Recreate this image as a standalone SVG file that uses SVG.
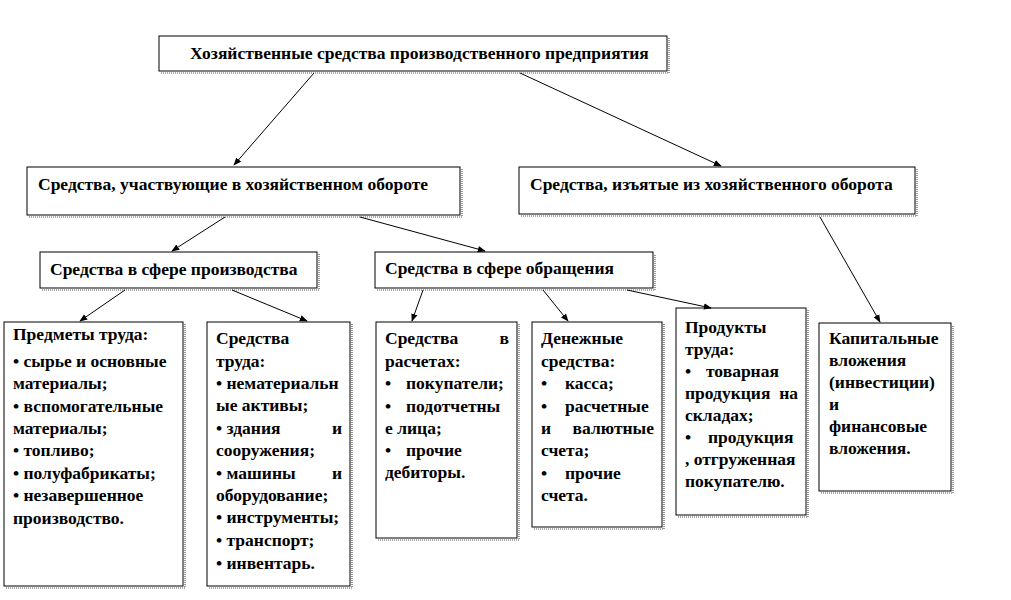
<svg xmlns="http://www.w3.org/2000/svg" width="1011" height="600" viewBox="0 0 1011 600">
<style>
.box{fill:#fff;stroke:#000;stroke-width:1}
.sh{fill:none;stroke:#555;stroke-width:1.2;stroke-dasharray:1 1}
text{font-family:"Liberation Serif","Times New Roman",serif;font-weight:bold;font-size:17.5px;fill:#000}
.c line{stroke:#000;stroke-width:1;marker-end:url(#ah)}
</style>
<defs>
<marker id="ah" viewBox="0 0 10 10" refX="9" refY="5" markerWidth="8" markerHeight="8" markerUnits="userSpaceOnUse" orient="auto">
<path d="M0,1 L10,5 L0,9 z" fill="#000"/>
</marker>
</defs>
<rect width="1011" height="600" fill="#fff"/>

<g id="n1">
<polyline class="sh" points="161,73 669,73 669,38"/>
<rect class="box" x="159" y="36" width="508" height="35"/>
<text x="190" y="59">Хозяйственные средства производственного предприятия</text>
</g>
<g id="n2">
<polyline class="sh" points="29,217 462,217 462,169"/>
<rect class="box" x="27" y="167" width="433" height="48"/>
<text x="38" y="190">Средства, участвующие в хозяйственном обороте</text>
</g>
<g id="n3">
<polyline class="sh" points="521,216 917,216 917,169"/>
<rect class="box" x="519" y="167" width="396" height="47"/>
<text x="530" y="190">Средства, изъятые из хозяйственного оборота</text>
</g>
<g id="n4">
<polyline class="sh" points="42,290 319,290 319,254"/>
<rect class="box" x="40" y="252" width="277" height="36"/>
<text x="50" y="275">Средства в сфере производства</text>
</g>
<g id="n5">
<polyline class="sh" points="377,290 655,290 655,254"/>
<rect class="box" x="375" y="252" width="278" height="36"/>
<text x="385" y="274">Средства в сфере обращения</text>
</g>
<g id="n6">
<polyline class="sh" points="6,588 185,588 185,324"/>
<rect class="box" x="4" y="322" width="179" height="264"/>
<text x="13" y="340">Предметы труда:</text>
<text x="13" y="367">• сырье и основные</text>
<text x="13" y="389">материалы;</text>
<text x="13" y="412">• вспомогательные</text>
<text x="13" y="434">материалы;</text>
<text x="13" y="456">• топливо;</text>
<text x="13" y="479">• полуфабрикаты;</text>
<text x="13" y="501">• незавершенное</text>
<text x="13" y="524">производство.</text>
</g>
<g id="n7">
<polyline class="sh" points="209,588 352,588 352,324"/>
<rect class="box" x="207" y="322" width="143" height="264"/>
<text x="216" y="344">Средства</text>
<text x="216" y="367">труда:</text>
<text x="216" y="389">• нематериальн</text>
<text x="216" y="411">ые активы;</text>
<text x="216" y="434">• здания</text>
<text x="342" y="434" text-anchor="end">и</text>
<text x="216" y="456">сооружения;</text>
<text x="216" y="479">• машины</text>
<text x="342" y="479" text-anchor="end">и</text>
<text x="216" y="501">оборудование;</text>
<text x="216" y="523">• инструменты;</text>
<text x="216" y="546">• транспорт;</text>
<text x="216" y="569">• инвентарь.</text>
</g>
<g id="n8">
<polyline class="sh" points="378,540 519,540 519,324"/>
<rect class="box" x="376" y="322" width="141" height="216"/>
<text x="385" y="344">Средства</text>
<text x="509" y="344" text-anchor="end">в</text>
<text x="385" y="367">расчетах:</text>
<text x="385" y="389">•</text><text x="406" y="389">покупатели;</text>
<text x="385" y="412">•</text><text x="406" y="412">подотчетны</text>
<text x="385" y="434">е лица;</text>
<text x="385" y="456">•</text><text x="406" y="456">прочие</text>
<text x="385" y="478">дебиторы.</text>
</g>
<g id="n9">
<polyline class="sh" points="534,529 664,529 664,324"/>
<rect class="box" x="532" y="322" width="130" height="205"/>
<text x="541" y="344">Денежные</text>
<text x="541" y="367">средства:</text>
<text x="541" y="389">•</text><text x="565" y="389">касса;</text>
<text x="541" y="412">•</text><text x="565" y="412">расчетные</text>
<text x="541" y="434">и</text>
<text x="654" y="434" text-anchor="end">валютные</text>
<text x="541" y="456">счета;</text>
<text x="541" y="479">•</text><text x="565" y="479">прочие</text>
<text x="541" y="501">счета.</text>
</g>
<g id="n10">
<polyline class="sh" points="678,517 808,517 808,310"/>
<rect class="box" x="676" y="308" width="130" height="207"/>
<text x="685" y="333">Продукты</text>
<text x="685" y="355">труда:</text>
<text x="685" y="377">•</text><text x="706" y="377">товарная</text>
<text x="685" y="399">продукция</text>
<text x="798" y="399" text-anchor="end">на</text>
<text x="685" y="421">складах;</text>
<text x="685" y="443">•</text><text x="708" y="443">продукция</text>
<text x="685" y="465">, отгруженная</text>
<text x="685" y="487">покупателю.</text>
</g>
<g id="n11">
<polyline class="sh" points="821,493 953,493 953,325"/>
<rect class="box" x="819" y="323" width="132" height="168"/>
<text x="829" y="344">Капитальные</text>
<text x="829" y="366">вложения</text>
<text x="829" y="388">(инвестиции)</text>
<text x="829" y="410">и</text>
<text x="829" y="432">финансовые</text>
<text x="829" y="454">вложения.</text>
</g>

<g id="connectors" class="c">
<line x1="314" y1="73" x2="234" y2="165"/>
<line x1="520" y1="73" x2="721" y2="166"/>
<line x1="225" y1="217" x2="172" y2="251"/>
<line x1="360" y1="217" x2="485" y2="251"/>
<line x1="820" y1="217" x2="880" y2="322"/>
<line x1="125" y1="290" x2="80" y2="321"/>
<line x1="232" y1="290" x2="307" y2="321"/>
<line x1="423" y1="290" x2="412" y2="321"/>
<line x1="543" y1="290" x2="568" y2="321"/>
<line x1="627" y1="290" x2="711" y2="308"/>
</g>
</svg>
